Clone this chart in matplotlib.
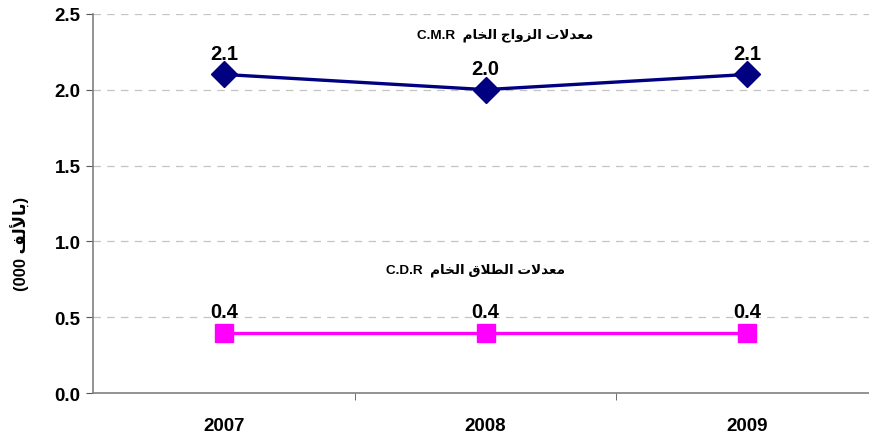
import numpy as np
import matplotlib
matplotlib.use("Agg")
import matplotlib.pyplot as plt

# data
years = ["2007", "2008", "2009"]
cmr = [2.1, 2.0, 2.1]
cdr = [0.4, 0.4, 0.4]
yticks = [0.0, 0.5, 1.0, 1.5, 2.0, 2.5]

# arabic text written in presentation forms, visual (left to right) order
w_rates = "\uFE95\uFEFB\uFEAA\uFECC\uFEE3"          # معدلات
w_marriage = "\uFE9D\uFE8D\uFEED\uFEB0\uFEDF\uFE8D"  # الزواج
w_crude = "\uFEE1\uFE8E\uFEA8\uFEDF\uFE8D"          # الخام
w_divorce = "\uFED5\uFEFC\uFEC4\uFEDF\uFE8D"         # الطلاق
w_thousand = "\uFED2\uFEDF\uFEF7\uFE8E\uFE91"        # بالألف

cmr_label = "C.M.R  " + w_crude + " " + w_marriage + " " + w_rates
cdr_label = "C.D.R  " + w_crude + " " + w_divorce + " " + w_rates
y_label = "(000 " + w_thousand + ")"

fam = ["Liberation Sans", "DejaVu Sans"]
plt.rcParams['font.family'] = fam
plt.rcParams['font.weight'] = 'bold'

fig = plt.figure(figsize=(8.7, 4.39), dpi=100)
ax = fig.add_axes([0.1069, 0.1018, 0.9023, 0.8647])

x = np.arange(len(years))
ax.plot(x, cmr, color='#000080', lw=2.4, marker='D', markersize=13, zorder=3)
ax.plot(x, cdr, color='#FF00FF', lw=2.4, marker='s', markersize=12.5, zorder=3)

for i in range(len(years)):
    ax.annotate(f"{cmr[i]:.1f}", (x[i], cmr[i]), xytext=(0, 8.5), textcoords='offset points',
                ha='center', va='bottom', fontsize=14.5, fontweight='bold')
    ax.annotate(f"{cdr[i]:.1f}", (x[i], cdr[i]), xytext=(0, 8.5), textcoords='offset points',
                ha='center', va='bottom', fontsize=14.5, fontweight='bold')

ax.text(1.074, 2.367, cmr_label, ha='center', va='center', fontsize=9.7, fontweight='bold')
ax.text(0.96, 0.819, cdr_label, ha='center', va='center', fontsize=9.7, fontweight='bold')

ax.set_xlim(-0.5, 2.5)
ax.set_ylim(0, 2.5)
ax.set_yticks(yticks)
ax.set_yticklabels([f"{v:.1f}" for v in yticks], fontsize=13.5, fontweight='bold')
ax.set_xticks(x)
ax.set_xticklabels(years, fontsize=13.5, fontweight='bold')
ax.set_xticks([0.5, 1.5], minor=True)
ax.tick_params(axis='x', which='major', length=0, pad=17)
ax.tick_params(axis='x', which='minor', length=5, direction='out', color='#555555')
ax.tick_params(axis='y', length=5, direction='out', color='#555555', pad=4)

for v in yticks[1:]:
    ax.axhline(v, color='#C4C4C4', lw=0.9, ls=(0, (6, 5)), zorder=1)

for s in ['top', 'right']:
    ax.spines[s].set_visible(False)
for s in ['left', 'bottom']:
    ax.spines[s].set_color('#808080')
    ax.spines[s].set_linewidth(1.2)

fig.text(0.023, 0.445, y_label, rotation=90, ha='center', va='center', fontsize=12, fontweight='bold')

fig.savefig("out.png", dpi=100)
